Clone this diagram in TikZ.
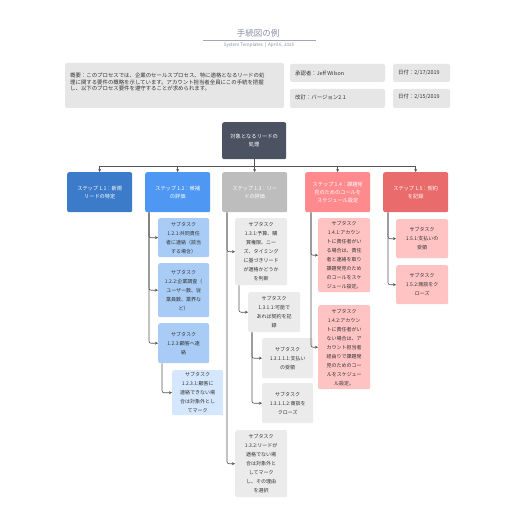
\documentclass[tikz,border=0pt]{standalone}
\usepackage{fontspec}
\setmainfont{Noto Sans CJK JP}
\usetikzlibrary{arrows.meta}
\definecolor{croot}{HTML}{4B5261}
\definecolor{cs11}{HTML}{3C7BC9}
\definecolor{cs12}{HTML}{4E97F2}
\definecolor{cs13}{HTML}{BDBDBD}
\definecolor{cs14}{HTML}{FF8A8E}
\definecolor{cs15}{HTML}{E96B6B}
\definecolor{cb12}{HTML}{A8CCF5}
\definecolor{cb1231}{HTML}{D5E7FC}
\definecolor{cb13}{HTML}{EBEBEB}
\definecolor{cb14}{HTML}{FFC3C3}
\definecolor{cinfo}{HTML}{E6E6E6}
\definecolor{ctext}{HTML}{333333}
\definecolor{cline}{HTML}{555555}
\definecolor{ctitle}{HTML}{8A8FA3}
\tikzset{
  card/.style={rounded corners=2pt, inner sep=0pt, align=center, anchor=north west},
  stepbox/.style={card, text=white, font=\fontsize{5.2}{8}\selectfont, minimum width=65pt, minimum height=40pt},
  subbox/.style={card, text=ctext, font=\fontsize{5}{9}\selectfont, minimum width=51pt},
  infobox/.style={rounded corners=2pt, fill=cinfo, draw=none},
  infotext/.style={inner sep=0pt, anchor=west, text=ctext, font=\fontsize{5.4}{6.8}\selectfont},
  link/.style={draw=cline, line width=0.6pt},
  conn/.style={link, rounded corners=2pt, -{Stealth[length=3pt,width=3pt]}},
}
\begin{document}
\begin{tikzpicture}[x=1pt,y=-1pt]
\useasboundingbox[fill=white] (0,0) rectangle (516,516);

% title
\node[text=ctitle, font=\fontsize{8.5}{9}\selectfont, inner sep=0pt] (title) at (258,33) {手続図の例};
\coordinate (tl) at (203,40);
\coordinate (tr) at (316,40);
\draw[draw=ctitle!80, line width=0.8pt] (tl) -- (tr);
\node[text=ctitle, font=\fontsize{4.6}{5}\selectfont, inner sep=0pt] (subtitle) at (259,45.5) {System Templates \ | \ April 6, 2025};

% info boxes
\path[infobox] (65,63) rectangle (284,108);
\node[infotext, anchor=north west, align=left] (summary) at (70,72.5) {概要：このプロセスでは、企業のセールスプロセス、特に適格となるリードの処\\理に関する要件の概略を示しています。アカウント担当者全員にこの手続を把握\\し、以下のプロセス要件を遵守することが求められます。};
\path[infobox] (290,64) rectangle (385,82);
\node[infotext] (appr) at (295,73) {承認者：Jeff Wilson};
\path[infobox] (393,64) rectangle (450,82);
\node[infotext] (date1) at (398,73) {日付：2/17/2019};
\path[infobox] (290,89) rectangle (385,108);
\node[infotext] (rev) at (295,97) {改訂：バージョン2.1};
\path[infobox] (393,89) rectangle (450,108);
\node[infotext] (date2) at (398,97) {日付：2/15/2019};

% root
\node[card, fill=croot, text=white, font=\fontsize{5.3}{7.5}\selectfont, minimum width=64pt, minimum height=37pt] (root) at (222,122) {対象となるリードの\\処理};

% steps
\node[stepbox, fill=cs11] (s11) at (67,172) {ステップ 1.1：新規\\リードの特定};
\node[stepbox, fill=cs12] (s12) at (145,172) {ステップ 1.2：候補\\の評価};
\node[stepbox, fill=cs13] (s13) at (222,172) {ステップ 1.3：リー\\ドの評価};
\node[stepbox, fill=cs14] (s14) at (305,172) {ステップ 1.4：課題発\\見のためのコールを\\スケジュール設定};
\node[stepbox, fill=cs15] (s15) at (383,172) {ステップ 1.5：契約\\を記録};

% bus
\coordinate (bus) at (0,166);
\draw[link] (root.south) -- (root.south |- bus);
\draw[link] (s11.north |- bus) -- (s15.north |- bus);
\foreach \s in {s11,s12,s13,s14,s15}{
  \draw[conn] (\s.north |- bus) -- (\s.north);
}

% subtasks 1.2
\node[subbox, fill=cb12, minimum height=39pt] (t121) at (158,218) {サブタスク\\1.2.1:共同責任\\者に連絡（該当\\する場合）};
\node[subbox, fill=cb12, minimum height=54pt] (t122) at (158,263) {サブタスク\\1.2.2:企業調査（\\ユーザー数、従\\業員数、業界な\\ど）};
\node[subbox, fill=cb12, minimum height=40pt] (t123) at (158,323) {サブタスク\\1.2.3:顧客へ連\\絡};
\node[subbox, fill=cb1231, minimum height=45pt] (t1231) at (172,370) {サブタスク\\1.2.3.1:顧客に\\連絡できない場\\合は対象外とし\\てマーク};

% subtasks 1.3
\node[subbox, fill=cb13, minimum width=52pt, minimum height=67pt] (t131) at (235,218) {サブタスク\\1.3.1:予算、購\\買権限、ニー\\ズ、タイミング\\に基づきリード\\が適格かどうか\\を判断};
\node[subbox, fill=cb13, minimum width=52pt, minimum height=40pt] (t1311) at (248,292) {サブタスク\\1.3.1.1:可能で\\あれば契約を記\\録};
\node[subbox, fill=cb13, minimum height=40pt] (t13111) at (262,338) {サブタスク\\1.3.1.1.1:支払い\\の受領};
\node[subbox, fill=cb13, minimum height=40pt] (t13112) at (262,383) {サブタスク\\1.3.1.1.2:商談を\\クローズ};
\node[subbox, fill=cb13, minimum width=52pt, minimum height=67pt] (t132) at (235,430) {サブタスク\\1.3.2:リードが\\適格でない場\\合は対象外と\\してマーク\\し、その理由\\を選択};

% subtasks 1.4
\node[subbox, fill=cb14, minimum width=52pt, minimum height=74pt] (t141) at (318,218) {サブタスク\\1.4.1:アカウン\\トに責任者がい\\る場合は、責任\\者と連絡を取り\\課題発見のため\\のコールをスケ\\ジュール設定。};
\node[subbox, fill=cb14, minimum width=52pt, minimum height=84pt] (t142) at (318,305) {サブタスク\\1.4.2:アカウン\\トに責任者がい\\ない場合は、ア\\カウント担当者\\経由りで課題発\\見のためのコー\\ルをスケジュー\\ル設定。};

% subtasks 1.5
\node[subbox, fill=cb14, minimum width=52pt, minimum height=39pt] (t151) at (396,219) {サブタスク\\1.5.1:支払いの\\受領};
\node[subbox, fill=cb14, minimum width=52pt, minimum height=39pt] (t152) at (396,265) {サブタスク\\1.5.2:商談をク\\ローズ};

% connectors
\draw[conn] ([xshift=4pt]s12.south west) |- (t121.west);
\draw[conn] ([xshift=4pt]s12.south west) |- (t122.west);
\draw[conn] ([xshift=4pt]s12.south west) |- (t123.west);
\draw[conn] ([xshift=4pt]t123.south west) |- (t1231.west);

\draw[conn] ([xshift=5pt]s13.south west) |- (t131.west);
\draw[conn] ([xshift=5pt]s13.south west) |- (t132.west);
\draw[conn] ([xshift=4pt]t131.south west) |- (t1311.west);
\draw[conn] ([xshift=4pt]t1311.south west) |- (t13111.west);
\draw[conn] ([xshift=4pt]t1311.south west) |- (t13112.west);

\draw[conn] ([xshift=6pt]s14.south west) |- (t141.west);
\draw[conn] ([xshift=6pt]s14.south west) |- (t142.west);

\draw[conn] ([xshift=5pt]s15.south west) |- (t151.west);
\draw[conn] ([xshift=5pt]s15.south west) |- (t152.west);
\end{tikzpicture}
\end{document}
